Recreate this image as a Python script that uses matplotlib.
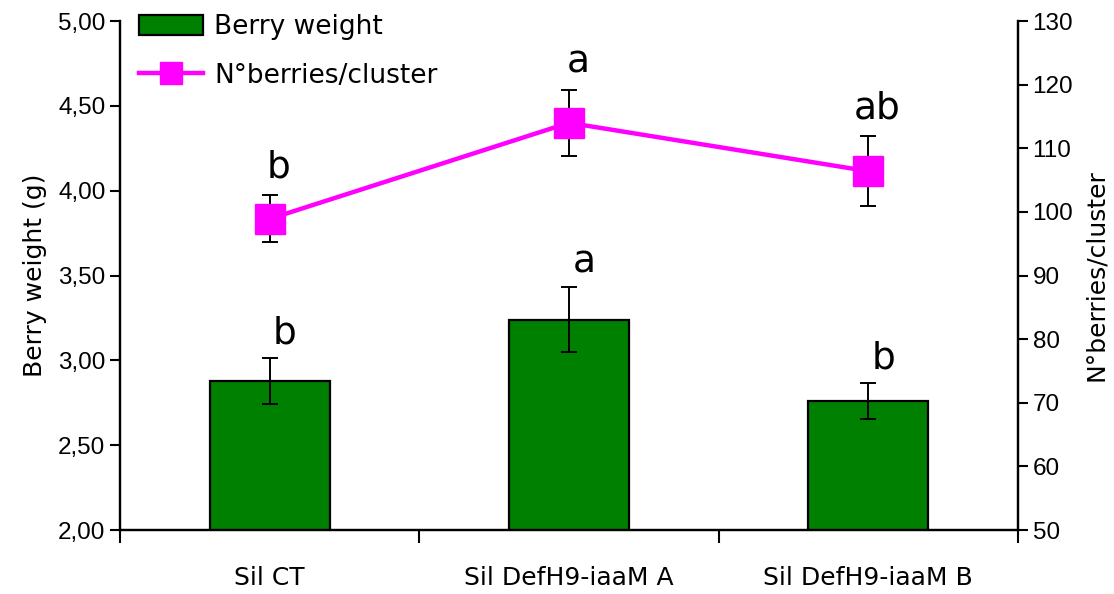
import numpy as np
import matplotlib.pyplot as plt
from matplotlib.ticker import FuncFormatter, FixedLocator

categories = ['Sil CT', 'Sil DefH9-iaaM A', 'Sil DefH9-iaaM B']
berry_weight = [2.88, 3.24, 2.76]
berry_weight_err = [0.135, 0.19, 0.105]
berries_cluster = [98.9, 114.0, 106.4]
berries_cluster_err = [3.7, 5.2, 5.5]
bar_letters = ['b', 'a', 'b']
line_letters = ['b', 'a', 'ab']

lab_font = 'DejaVu Sans'
num_font = 'Liberation Sans'

fig = plt.figure(figsize=(11.14, 5.94), dpi=100)
ax = fig.add_axes([0.1077, 0.1077, 0.8061, 0.8569])
ax2 = ax.twinx()

x = np.arange(len(categories))
ax.bar(x, berry_weight, width=0.4, color='#008000', edgecolor='black',
       linewidth=1.6, label='Berry weight', zorder=2)
ax.errorbar(x, berry_weight, yerr=berry_weight_err, fmt='none', ecolor='black',
            elinewidth=1.4, capsize=6, capthick=1.4, zorder=3)
ax2.errorbar(x, berries_cluster, yerr=berries_cluster_err, fmt='none', ecolor='black',
             elinewidth=1.4, capsize=6, capthick=1.4, zorder=3)
ax2.plot(x, berries_cluster, color='#ff00ff', linewidth=3.2, marker='s',
         markersize=21, label='N°berries/cluster', zorder=4)

for i in range(len(x)):
    ax.text(x[i] + 0.05, berry_weight[i] + berry_weight_err[i] + 0.04, bar_letters[i],
            ha='center', va='bottom', fontsize=27, family=lab_font)
    ax2.text(x[i] + 0.03, berries_cluster[i] + berries_cluster_err[i] + 1.5, line_letters[i],
             ha='center', va='bottom', fontsize=27, family=lab_font)

ax.set_xlim(-0.5, 2.5)
ax.set_ylim(2.0, 5.0)
ax2.set_ylim(50, 130)
ax.set_yticks(np.arange(2.0, 5.01, 0.5))
ax2.set_yticks(np.arange(50, 131, 10))
ax.yaxis.set_major_formatter(FuncFormatter(lambda v, p: '{:.2f}'.format(v).replace('.', ',')))

ax.set_xticks(x)
ax.set_xticklabels(categories, fontsize=18, family=lab_font)
ax.tick_params(axis='x', which='major', length=0, pad=26)
ax.xaxis.set_minor_locator(FixedLocator([-0.5, 0.5, 1.5, 2.5]))
ax.tick_params(axis='x', which='minor', length=9, width=1.5, direction='out')

ax.tick_params(axis='y', length=7, width=1.5, labelsize=17.5)
ax2.tick_params(axis='y', length=7, width=1.5, labelsize=17.5)
for lab in ax.get_yticklabels() + ax2.get_yticklabels():
    lab.set_family(num_font)
for a in (ax, ax2):
    a.spines['top'].set_visible(False)
    for s in ('left', 'right', 'bottom'):
        a.spines[s].set_linewidth(1.6)

ax.set_ylabel('Berry weight (g)', fontsize=18, family=lab_font, labelpad=8)
ax2.set_ylabel('N°berries/cluster', fontsize=18, family=lab_font, labelpad=8)

h1, l1 = ax.get_legend_handles_labels()
h2, l2 = ax2.get_legend_handles_labels()
ax2.legend(h1 + h2, l1 + l2, loc='upper left', bbox_to_anchor=(-0.005, 1.06),
           frameon=False, prop={'family': lab_font, 'size': 19},
           handlelength=2.4, handleheight=0.8, handletextpad=0.45,
           labelspacing=0.85, markerscale=0.75)

fig.savefig('out.png', dpi=100)
